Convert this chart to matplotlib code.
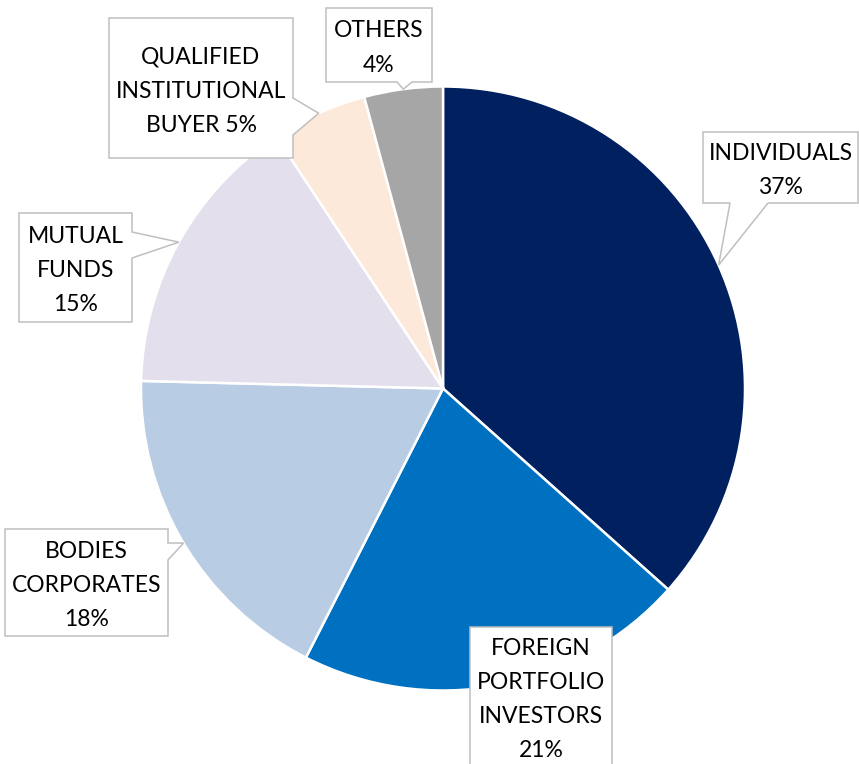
import numpy as np
import matplotlib
matplotlib.use('Agg')
import matplotlib.pyplot as plt
from matplotlib.patches import Polygon

# shareholding pattern (slice sizes, labels show rounded %)
categories = ['INDIVIDUALS', 'FOREIGN\nPORTFOLIO\nINVESTORS', 'BODIES\nCORPORATES',
              'MUTUAL\nFUNDS', 'QUALIFIED\nINSTITUTIONAL\nBUYER', 'OTHERS']
shares = [36.6, 20.9, 17.9, 15.3, 5.1, 4.2]
pct_labels = ['37%', '21%', '18%', '15%', '5%', '4%']
colors = ['#002060', '#0070C0', '#B8CCE4', '#E4DFEC', '#FDE9D9', '#A6A6A6']

# callout layout in pixel coords (left, top, right, bottom), pointer side, pointer base
boxes = [
    ((703, 132, 858, 203), 'bottom', (730, 768)),
    ((470, 627, 612, 766), None, None),
    ((5, 529, 168, 636), 'right', (543, 560)),
    ((19, 213, 132, 322), 'right', (232, 258)),
    ((109, 18, 293, 158), 'right', (98, 135)),
    ((326, 8, 432, 82), 'bottom', (397, 412)),
]
# QIB label puts the percentage on the same line
label_join = ['\n', '\n', '\n', '\n', ' ', '\n']

W, H = 859, 764
fig = plt.figure(figsize=(W / 100, H / 100), dpi=100)
ax = fig.add_axes([0, 0, 1, 1])

cx, cy, R = 443, 388.5, 302
# y axis is inverted below, so counterclock=True draws clockwise on screen
wedges, _ = ax.pie(shares, colors=colors, startangle=-90, counterclock=True,
                   center=(cx, cy), radius=R,
                   wedgeprops=dict(edgecolor='white', linewidth=1.8))

ax.set_xlim(0, W)
ax.set_ylim(H, 0)
ax.set_aspect('equal')
ax.axis('off')

for w, cat, pct, (box, side, base), j in zip(wedges, categories, pct_labels, boxes, label_join):
    l, t, r, b = box
    mid = np.deg2rad((w.theta1 + w.theta2) / 2)
    tip = (cx + R * np.cos(mid), cy + R * np.sin(mid))
    if side == 'bottom':
        pts = [(l, t), (r, t), (r, b), (base[1], b), tip, (base[0], b), (l, b)]
    elif side == 'right':
        pts = [(l, t), (r, t), (r, base[0]), tip, (r, base[1]), (r, b), (l, b)]
    else:
        pts = [(l, t), (r, t), (r, b), (l, b)]
    ax.add_patch(Polygon(pts, closed=True, facecolor='white', edgecolor='#BFBFBF',
                         linewidth=1.1, zorder=5, clip_on=False))
    ax.text((l + r) / 2, (t + b) / 2 + 3, cat + j + pct, ha='center', va='center',
            multialignment='center', fontsize=16.5, family='Lato', color='black',
            linespacing=1.77, zorder=6)

fig.savefig('out.png', dpi=100)
